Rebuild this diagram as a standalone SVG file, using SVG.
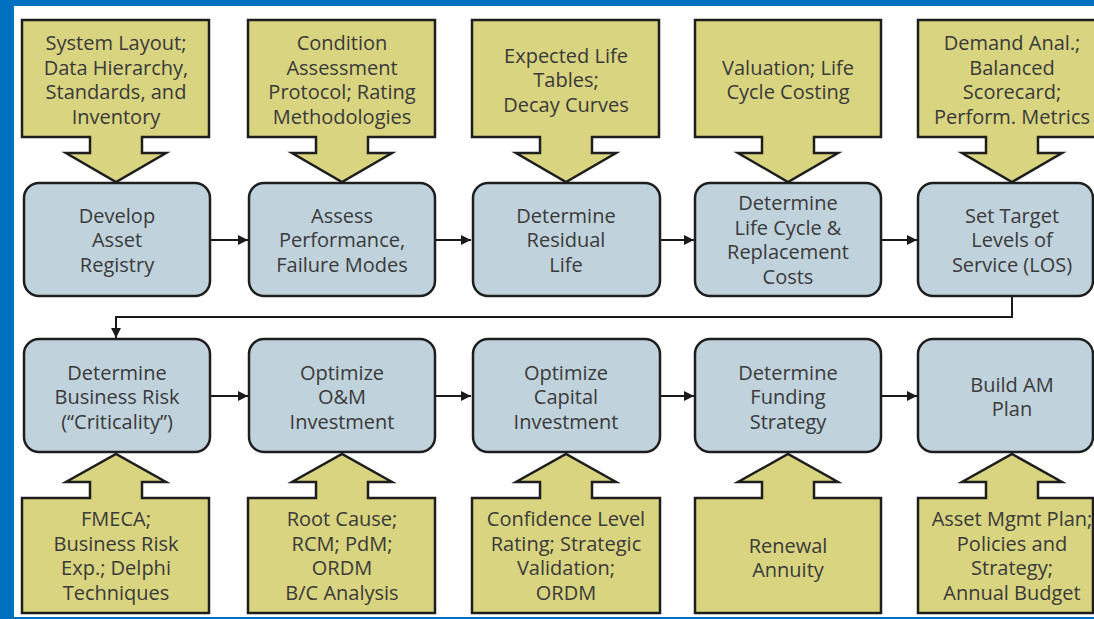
<svg xmlns="http://www.w3.org/2000/svg" width="1094" height="619" viewBox="0 0 1094 619">
<defs>
<style>
.callout{fill:#d8d47f;stroke:#1e1e1e;stroke-width:2.5;stroke-linejoin:miter}
.proc{fill:#c0d2dc;stroke:#1e1e1e;stroke-width:2.5}
.t{font-family:"Open Sans","Liberation Sans",sans-serif;font-size:20px;fill:#3a3a3a;text-anchor:middle}
.conn{fill:none;stroke:#1a1a1a;stroke-width:2}
</style>
<marker id="ah" viewBox="0 0 10 10" refX="10" refY="5" markerWidth="10" markerHeight="10" markerUnits="userSpaceOnUse" orient="auto">
<path d="M0,0 L10,5 L0,10 Z" fill="#1a1a1a"/>
</marker>
</defs>
<rect x="0" y="0" width="1094" height="619" fill="#0070c0"/>
<rect x="14" y="6" width="1080" height="611" fill="#ffffff"/>

<g id="connectors">
<path class="conn" d="M210,240 H248" marker-end="url(#ah)"/>
<path class="conn" d="M435,240 H471" marker-end="url(#ah)"/>
<path class="conn" d="M660,240 H694" marker-end="url(#ah)"/>
<path class="conn" d="M881,240 H917" marker-end="url(#ah)"/>
<path class="conn" d="M1012,296 V317 H116 V338" marker-end="url(#ah)"/>
<path class="conn" d="M210,396 H248" marker-end="url(#ah)"/>
<path class="conn" d="M435,396 H471" marker-end="url(#ah)"/>
<path class="conn" d="M660,396 H694" marker-end="url(#ah)"/>
<path class="conn" d="M881,396 H917" marker-end="url(#ah)"/>
</g>

<!-- top callouts -->
<g id="in1">
<path class="callout" d="M22,20 H209 V137 H142 V153 H166 L116,182 L66,153 H90 V137 H22 Z"/>
<text class="t" x="116" y="50.25">System Layout;</text>
<text class="t" x="116" y="74.75">Data Hierarchy,</text>
<text class="t" x="116" y="99.25">Standards, and</text>
<text class="t" x="116" y="123.75">Inventory</text>
</g>
<g id="in2">
<path class="callout" d="M248,20 H435 V137 H368 V153 H392 L342,182 L292,153 H316 V137 H248 Z"/>
<text class="t" x="342" y="50.25">Condition</text>
<text class="t" x="342" y="74.75">Assessment</text>
<text class="t" x="342" y="99.25">Protocol; Rating</text>
<text class="t" x="342" y="123.75">Methodologies</text>
</g>
<g id="in3">
<path class="callout" d="M472,20 H659 V137 H592 V153 H616 L566,182 L516,153 H540 V137 H472 Z"/>
<text class="t" x="566" y="62.5">Expected Life</text>
<text class="t" x="566" y="87">Tables;</text>
<text class="t" x="566" y="111.5">Decay Curves</text>
</g>
<g id="in4">
<path class="callout" d="M695,20 H881 V137 H814 V153 H838 L788,182 L738,153 H762 V137 H695 Z"/>
<text class="t" x="788" y="74.75">Valuation; Life</text>
<text class="t" x="788" y="99.25">Cycle Costing</text>
</g>
<g id="in5">
<path class="callout" d="M918,20 H1106 V137 H1038 V153 H1062 L1012,182 L962,153 H986 V137 H918 Z"/>
<text class="t" x="1012" y="50.25">Demand Anal.;</text>
<text class="t" x="1012" y="74.75">Balanced</text>
<text class="t" x="1012" y="99.25">Scorecard;</text>
<text class="t" x="1012" y="123.75">Perform. Metrics</text>
</g>

<!-- row 1 process -->
<g id="p1">
<rect class="proc" x="24" y="183" width="186" height="113" rx="15"/>
<text class="t" x="117" y="222.5">Develop</text>
<text class="t" x="117" y="247">Asset</text>
<text class="t" x="117" y="271.5">Registry</text>
</g>
<g id="p2">
<rect class="proc" x="249" y="183" width="186" height="113" rx="15"/>
<text class="t" x="342" y="222.5">Assess</text>
<text class="t" x="342" y="247">Performance,</text>
<text class="t" x="342" y="271.5">Failure Modes</text>
</g>
<g id="p3">
<rect class="proc" x="473" y="183" width="187" height="113" rx="15"/>
<text class="t" x="566" y="222.5">Determine</text>
<text class="t" x="566" y="247">Residual</text>
<text class="t" x="566" y="271.5">Life</text>
</g>
<g id="p4">
<rect class="proc" x="695" y="183" width="186" height="113" rx="15"/>
<text class="t" x="788" y="210.25">Determine</text>
<text class="t" x="788" y="234.75">Life Cycle &amp;</text>
<text class="t" x="788" y="259.25">Replacement</text>
<text class="t" x="788" y="283.75">Costs</text>
</g>
<g id="p5">
<rect class="proc" x="918" y="183" width="175" height="113" rx="15"/>
<text class="t" x="1012" y="222.5">Set Target</text>
<text class="t" x="1012" y="247">Levels of</text>
<text class="t" x="1012" y="271.5">Service (LOS)</text>
</g>

<!-- row 2 process -->
<g id="p6">
<rect class="proc" x="24" y="339" width="186" height="113" rx="15"/>
<text class="t" x="117" y="379.5">Determine</text>
<text class="t" x="117" y="404">Business Risk</text>
<text class="t" x="117" y="428.5">(“Criticality”)</text>
</g>
<g id="p7">
<rect class="proc" x="249" y="339" width="186" height="113" rx="15"/>
<text class="t" x="342" y="379.5">Optimize</text>
<text class="t" x="342" y="404">O&amp;M</text>
<text class="t" x="342" y="428.5">Investment</text>
</g>
<g id="p8">
<rect class="proc" x="473" y="339" width="187" height="113" rx="15"/>
<text class="t" x="566" y="379.5">Optimize</text>
<text class="t" x="566" y="404">Capital</text>
<text class="t" x="566" y="428.5">Investment</text>
</g>
<g id="p9">
<rect class="proc" x="695" y="339" width="186" height="113" rx="15"/>
<text class="t" x="788" y="379.5">Determine</text>
<text class="t" x="788" y="404">Funding</text>
<text class="t" x="788" y="428.5">Strategy</text>
</g>
<g id="p10">
<rect class="proc" x="918" y="339" width="175" height="113" rx="15"/>
<text class="t" x="1012" y="391.75">Build AM</text>
<text class="t" x="1012" y="416.25">Plan</text>
</g>

<!-- bottom callouts -->
<g id="b1">
<path class="callout" d="M22,613 H209 V498 H142 V482 H166 L116,454 L66,482 H90 V498 H22 Z"/>
<text class="t" x="116" y="526.25">FMECA;</text>
<text class="t" x="116" y="550.75">Business Risk</text>
<text class="t" x="116" y="575.25">Exp.; Delphi</text>
<text class="t" x="116" y="599.75">Techniques</text>
</g>
<g id="b2">
<path class="callout" d="M248,613 H435 V498 H368 V482 H392 L342,454 L292,482 H316 V498 H248 Z"/>
<text class="t" x="342" y="526.25">Root Cause;</text>
<text class="t" x="342" y="550.75">RCM; PdM;</text>
<text class="t" x="342" y="575.25">ORDM</text>
<text class="t" x="342" y="599.75">B/C Analysis</text>
</g>
<g id="b3">
<path class="callout" d="M472,613 H660 V498 H592 V482 H616 L566,454 L516,482 H540 V498 H472 Z"/>
<text class="t" x="566" y="526.25">Confidence Level</text>
<text class="t" x="566" y="550.75">Rating; Strategic</text>
<text class="t" x="566" y="575.25">Validation;</text>
<text class="t" x="566" y="599.75">ORDM</text>
</g>
<g id="b4">
<path class="callout" d="M695,613 H881 V498 H814 V482 H838 L788,454 L738,482 H762 V498 H695 Z"/>
<text class="t" x="788" y="552.75">Renewal</text>
<text class="t" x="788" y="577.25">Annuity</text>
</g>
<g id="b5">
<path class="callout" d="M918,613 H1093 V498 H1038 V482 H1062 L1012,454 L962,482 H986 V498 H918 Z"/>
<text class="t" x="1012" y="526.25">Asset Mgmt Plan;</text>
<text class="t" x="1012" y="550.75">Policies and</text>
<text class="t" x="1012" y="575.25">Strategy;</text>
<text class="t" x="1012" y="599.75">Annual Budget</text>
</g>
</svg>
